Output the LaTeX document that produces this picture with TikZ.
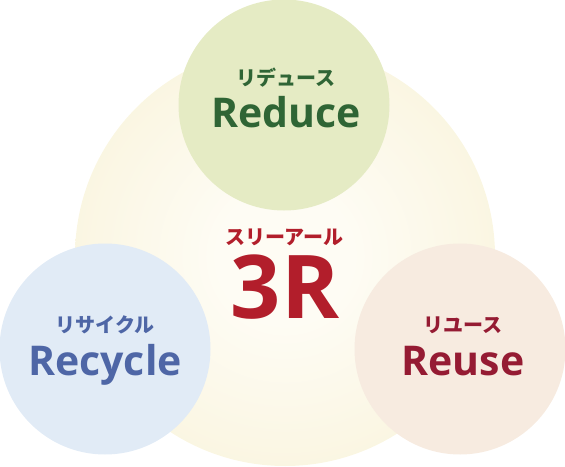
\documentclass[tikz,border=0pt]{standalone}
\usepackage{fontspec}
\setmainfont{Open Sans}
\newfontfamily\kanafont{Noto Sans CJK JP}
\usepackage{xcolor}
\usepackage{tikz}
\usetikzlibrary{positioning}

\definecolor{glowin}{HTML}{FEFCF4}
\definecolor{glowout}{HTML}{F5EDC8}
\definecolor{reducefill}{HTML}{E5EBC4}
\definecolor{reducetext}{HTML}{2F6535}
\definecolor{recyclefill}{HTML}{E1EBF6}
\definecolor{recycletext}{HTML}{4E66A6}
\definecolor{reusefill}{HTML}{F7EBE0}
\definecolor{reusetext}{HTML}{951B33}
\definecolor{threertext}{HTML}{B21E2B}

\pgfdeclareradialshading{glow}{\pgfpoint{0bp}{0bp}}{color(0bp)=(glowin); color(8bp)=(glowin); color(50bp)=(glowout)}

\tikzset{
  blob/.style={circle, inner sep=0pt, minimum size=211pt},
  kana/.style={anchor=base, inner sep=0pt, font=\kanafont\bfseries\fontsize{20}{20}\selectfont},
  word/.style={anchor=base, inner sep=0pt, font=\bfseries\fontsize{41}{41}\selectfont}
}

\begin{document}
\begin{tikzpicture}[x=1pt, y=-1pt]
      \useasboundingbox (0, 0) rectangle (565, 466);

      % Big circle
      \node[circle, inner sep=0pt, minimum size=420pt, shading=glow] (ring) at (285, 256) {};

      % Circles
      \node[blob, fill=reducefill] (reduce) at (284, 105) {};
      \node[blob, fill=recyclefill] (recycle) at (105, 349) {};
      \node[blob, fill=reusefill] (reuse) at (460, 349) {};

      % Labels
      \node[kana, reducetext] (reducekana) at (286, 85) {リデュース};
      \node[word, reducetext] (reduceword) at (286, 127) {Reduce};

      \node[kana, threertext] (threerkana) at (284, 244) {スリーアール};
      \node[word, threertext, font=\bfseries\fontsize{88}{88}\selectfont] (threerword) at (285, 318) {3R};

      \node[kana, recycletext] (recyclekana) at (105, 332) {リサイクル};
      \node[word, recycletext] (recycleword) at (105, 375) {Recycle};

      \node[kana, reusetext] (reusekana) at (463, 332) {リユース};
      \node[word, reusetext] (reuseword) at (463, 375) {Reuse};
    \end{tikzpicture}
\end{document}
